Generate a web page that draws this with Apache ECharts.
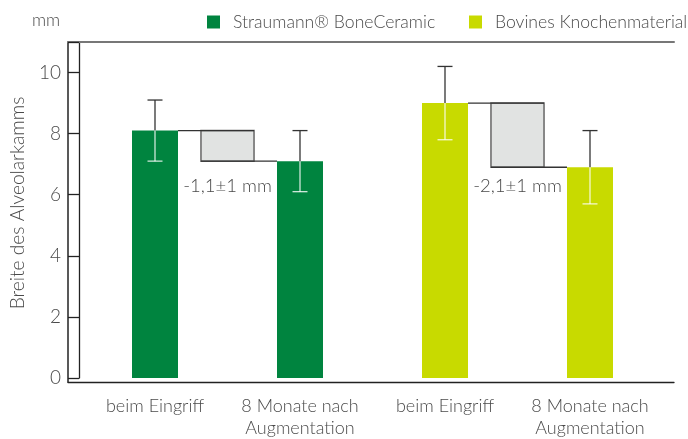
<!DOCTYPE html>
<html><head><meta charset="utf-8">
<script src="https://cdn.jsdelivr.net/npm/echarts@6/dist/echarts.min.js"></script>
<style>html,body{margin:0;padding:0;background:#fff}#c{width:688px;height:439px}</style>
</head><body><div id="c"></div><script>
const categories = ['beim Eingriff', '8 Monate nach\nAugmentation', 'beim Eingriff', '8 Monate nach\nAugmentation'];
const seriesNames = ['Straumann® BoneCeramic', 'Bovines Knochenmaterial'];
const boneCeramic = [8.1, 7.1, '-', '-'];
const bovine = ['-', '-', 9.0, 6.9];
const errorsAll = [1.0, 1.0, 1.2, 1.2];
const diffPairs = [[0, 1], [2, 3]];
const diffLabels = ['-1,1±1 mm', '-2,1±1 mm'];
const yTicks = [0, 2, 4, 6, 8, 10];
const yMax = 11;

const FONT = 'Lato';
const FW = 300;
const TXT = '#4a4a4a';
const GREEN = '#00843f';
const LIME = '#c8da00';
const BAR_W = 46;
const LABEL_Y = 6.3;

const values = boneCeramic.map((v, i) => v === '-' ? bovine[i] : v);
const errData = values.map((v, i) => [i, v, errorsAll[i]]);
const diffData = diffPairs.map(p => [p[0], p[1], values[p[0]], values[p[1]]]);

const chart = echarts.init(document.getElementById('c'), null, {renderer: 'canvas'});
chart.setOption({
  animation: false,
  title: {text: 'mm', left: 32, top: 11, padding: 0,
    textStyle: {fontFamily: FONT, fontWeight: FW, fontSize: 17.5, color: TXT}},
  legend: [
    {data: [seriesNames[0]], left: 207, top: 13, padding: 0, icon: 'rect', itemWidth: 13, itemHeight: 13,
      textStyle: {fontFamily: FONT, fontWeight: FW, fontSize: 17.6, color: TXT, padding: [0, 0, 0, 8]}},
    {data: [seriesNames[1]], left: 469, top: 13, padding: 0, icon: 'rect', itemWidth: 13, itemHeight: 13,
      textStyle: {fontFamily: FONT, fontWeight: FW, fontSize: 17.6, color: TXT, padding: [0, 0, 0, 8]}}
  ],
  grid: [
    {left: 82.5, right: 25.5, top: 42, bottom: 57},
    {left: 68, right: 14, top: 42, bottom: 57}
  ],
  xAxis: [
    {type: 'category', gridIndex: 0, data: categories,
      axisLine: {show: false}, axisTick: {show: false},
      axisLabel: {interval: 0, hideOverlap: false, margin: 17, fontFamily: FONT, fontWeight: FW, fontSize: 18, color: TXT, lineHeight: 22}},
    {type: 'value', gridIndex: 1, position: 'bottom', min: 0, max: 1,
      axisLine: {show: true, lineStyle: {color: '#222', width: 1.3}}, axisTick: {show: false},
      axisLabel: {show: false}, splitLine: {show: false}},
    {type: 'value', gridIndex: 1, position: 'top', min: 0, max: 1,
      axisLine: {show: true, lineStyle: {color: '#777', width: 2}}, axisTick: {show: false},
      axisLabel: {show: false}, splitLine: {show: false}}
  ],
  yAxis: [
    {type: 'value', gridIndex: 0, min: 0, max: yMax, interval: 2, offset: 3.5,
      name: 'Breite des Alveolarkamms', nameLocation: 'middle', nameGap: 52,
      nameTextStyle: {fontFamily: FONT, fontWeight: FW, fontSize: 19.2, color: TXT, padding: [0, 0, 0, 14]},
      axisLine: {show: true, lineStyle: {color: '#222', width: 1.3}},
      axisTick: {show: true, length: 11, lineStyle: {color: '#222', width: 1.3}},
      splitLine: {show: false},
      axisLabel: {margin: 18, fontFamily: FONT, fontWeight: FW, fontSize: 19, color: TXT,
        formatter: v => yTicks.indexOf(v) >= 0 ? String(v) : ''}},
    {type: 'value', gridIndex: 1, position: 'right', min: 0, max: 1,
      axisLine: {show: true, lineStyle: {color: '#222', width: 1.5}}, axisTick: {show: false},
      axisLabel: {show: false}, splitLine: {show: false}}
  ],
  series: [
    {name: seriesNames[0], type: 'bar', data: boneCeramic, barWidth: BAR_W, barGap: '-100%',
      itemStyle: {color: GREEN}, z: 2},
    {name: seriesNames[1], type: 'bar', data: bovine, barWidth: BAR_W, barGap: '-100%',
      itemStyle: {color: LIME}, z: 2},
    {type: 'custom', data: errData, z: 5, silent: true,
      renderItem: (params, api) => {
        const i = api.value(0), v = api.value(1), e = api.value(2);
        const top = api.coord([i, v + e]), mid = api.coord([i, v]), bot = api.coord([i, v - e]);
        const x = top[0], hw = 7.5;
        const dark = {stroke: '#333', lineWidth: 1.3};
        const light = {stroke: 'rgba(255,255,255,0.8)', lineWidth: 1.3};
        return {type: 'group', children: [
          {type: 'line', shape: {x1: x, y1: top[1], x2: x, y2: mid[1]}, style: dark},
          {type: 'line', shape: {x1: x - hw, y1: top[1], x2: x + hw, y2: top[1]}, style: dark},
          {type: 'line', shape: {x1: x, y1: mid[1], x2: x, y2: bot[1]}, style: light},
          {type: 'line', shape: {x1: x - hw, y1: bot[1], x2: x + hw, y2: bot[1]}, style: light}
        ]};
      }},
    {type: 'custom', data: diffData, z: 4, silent: true,
      renderItem: (params, api) => {
        const a = api.coord([api.value(0), api.value(2)]);
        const b = api.coord([api.value(1), api.value(3)]);
        const band = api.size([1, 0])[0];
        const cx = (a[0] + b[0]) / 2, boxW = band * 0.366;
        const l = cx - boxW / 2, r = cx + boxW / 2;
        const ly = api.coord([api.value(0), LABEL_Y])[1];
        return {type: 'group', children: [
          {type: 'rect', shape: {x: l, y: a[1], width: boxW, height: b[1] - a[1]},
            style: {fill: '#e1e3e2', stroke: '#666', lineWidth: 1.5}},
          {type: 'line', shape: {x1: a[0] + BAR_W / 2, y1: a[1], x2: r, y2: a[1]}, style: {stroke: '#333', lineWidth: 1.3}},
          {type: 'line', shape: {x1: l, y1: b[1], x2: b[0] - BAR_W / 2, y2: b[1]}, style: {stroke: '#333', lineWidth: 1.3}},
          {type: 'text', x: cx, y: ly, style: {text: diffLabels[params.dataIndex], align: 'center', verticalAlign: 'middle',
            fontFamily: FONT, fontWeight: FW, fontSize: 18.5, fill: TXT}}
        ]};
      }}
  ]
});
</script></body></html>
